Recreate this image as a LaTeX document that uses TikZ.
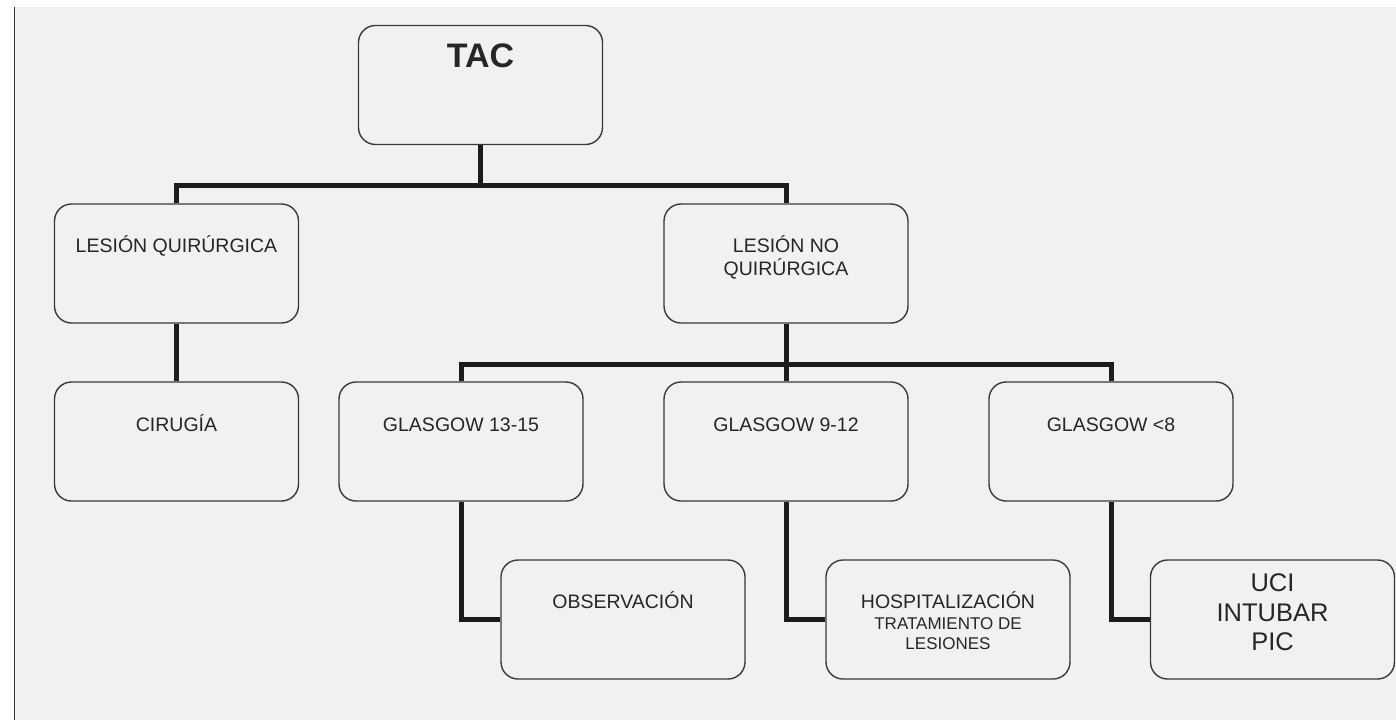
\documentclass[tikz,border=0pt]{standalone}
\usepackage{fontspec}
\setmainfont{Liberation Sans}
\definecolor{panel}{HTML}{F0F1F3}
\definecolor{edge}{HTML}{3A3A3A}
\definecolor{wire}{HTML}{1C1C1C}
\definecolor{ink}{HTML}{262626}
% strut of one em so that the first baseline sits 1em below the label's north anchor
\newcommand\capstrut{\rule{0pt}{1em}}
\begin{document}
\begin{tikzpicture}[x=1pt,y=-1pt,
  box/.style={draw=edge, line width=1.4pt, rounded corners=17pt,
    minimum width=244pt, minimum height=119pt, inner sep=0pt},
  lbl/.style={anchor=north, inner sep=0pt, text=ink, align=center},
  normal/.style={font=\fontsize{19.5}{23}\selectfont},
  small/.style={font=\fontsize{17}{19.5}\selectfont},
  wirestyle/.style={draw=wire, line width=5pt, line join=miter}]

% page and panel
\useasboundingbox (0,0) rectangle (1396,720);
\fill[white] (0,0) rectangle (1396,720);
\fill[panel] (14,7) rectangle (1396,720);
\draw[edge, line width=1.6pt] (14.5,7) -- (14.5,720);

% boxes
\node[box] (tac)  at (480.5,85)    {};
\node[box] (lq)   at (176.5,263.5) {};
\node[box] (lnq)  at (786,263.5)   {};
\node[box] (cir)  at (176.5,441.5) {};
\node[box] (g1)   at (461,441.5)   {};
\node[box] (g2)   at (786,441.5)   {};
\node[box] (g3)   at (1111,441.5)  {};
\node[box] (obs)  at (623,619.5)   {};
\node[box] (hosp) at (948,619.5)   {};
\node[box] (uci)  at (1272.5,619.5){};

% labels
\node[lbl, font=\bfseries\fontsize{34}{40}\selectfont] at ([yshift=-8pt]tac.north) {\capstrut TAC};
\node[lbl, normal] at ([yshift=-29.5pt]lq.north)  {\capstrut LESIÓN QUIRÚRGICA};
\node[lbl, normal] at ([yshift=-29.5pt]lnq.north) {\capstrut LESIÓN NO\\QUIRÚRGICA};
\node[lbl, normal] at ([yshift=-30pt]cir.north)  {\capstrut CIRUGÍA};
\node[lbl, normal] at ([yshift=-30pt]g1.north)   {\capstrut GLASGOW 13-15};
\node[lbl, normal] at ([yshift=-30pt]g2.north)   {\capstrut GLASGOW 9-12};
\node[lbl, normal] at ([yshift=-30pt]g3.north)   {\capstrut GLASGOW <8};
\node[lbl, normal] at ([yshift=-29.5pt]obs.north) {\capstrut OBSERVACIÓN};
\node[lbl, font=\fontsize{19.5}{21}\selectfont] at ([yshift=-29.5pt]hosp.north)
  {\capstrut HOSPITALIZACIÓN\\{\fontsize{17}{19.5}\selectfont TRATAMIENTO DE}\\[-1.5pt]{\fontsize{17}{19.5}\selectfont LESIONES}};
\node[lbl, font=\fontsize{25.5}{29.5}\selectfont] at ([yshift=-6.5pt]uci.north)
  {\capstrut UCI\\INTUBAR\\PIC};

% connectors
\coordinate (bus1) at (480.5,185.5);
\coordinate (bus2) at (786,364.5);
\draw[wirestyle] (tac.south) -- (bus1);
\draw[wirestyle] (lq.north) |- (bus1) -| (lnq.north);
\draw[wirestyle] (lq.south) -- (cir.north);
\draw[wirestyle] (lnq.south) -- (g2.north);
\draw[wirestyle] (g1.north) |- (bus2) -| (g3.north);
\draw[wirestyle] (g1.south) |- (obs.west);
\draw[wirestyle] (g2.south) |- (hosp.west);
\draw[wirestyle] (g3.south) |- (uci.west);
\end{tikzpicture}
\end{document}
